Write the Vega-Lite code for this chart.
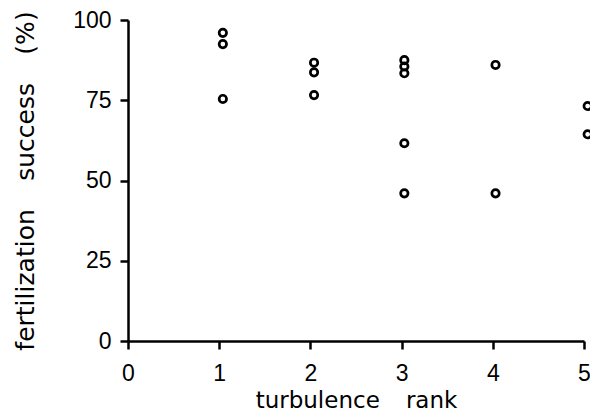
{
  "$schema": "https://vega.github.io/schema/vega-lite/v6.json",
  "width": 456,
  "height": 321,
  "autosize": {"type": "none"},
  "padding": {"left": 128, "top": 20, "right": 6, "bottom": 73},
  "background": "white",
  "data": {"values": [
    {"rank": 1.04, "success": 96},
    {"rank": 1.04, "success": 92.5},
    {"rank": 1.04, "success": 75.4},
    {"rank": 2.04, "success": 86.7},
    {"rank": 2.04, "success": 83.7},
    {"rank": 2.04, "success": 76.6},
    {"rank": 3.03, "success": 87.5},
    {"rank": 3.03, "success": 85.5},
    {"rank": 3.03, "success": 83.4},
    {"rank": 3.03, "success": 61.6},
    {"rank": 3.03, "success": 46},
    {"rank": 4.03, "success": 86},
    {"rank": 4.03, "success": 46},
    {"rank": 5.04, "success": 73.2},
    {"rank": 5.04, "success": 64.4}
  ]},
  "config": {
    "view": {"stroke": null},
    "font": "Liberation Sans",
    "axis": {
      "grid": false,
      "domainColor": "black",
      "domainWidth": 2.5,
      "tickColor": "black",
      "tickWidth": 2.5,
      "tickSize": 8,
      "labelColor": "black",
      "labelFontSize": 23,
      "labelFont": "Liberation Sans",
      "titleFont": "DejaVu Sans",
      "titleFontWeight": "normal",
      "titleColor": "black"
    }
  },
  "mark": {"type": "point", "shape": "circle", "filled": false, "color": "black", "strokeWidth": 2.7, "size": 55, "opacity": 1, "clip": false},
  "encoding": {
    "x": {
      "field": "rank", "type": "quantitative",
      "scale": {"domain": [0, 5], "nice": false, "zero": true},
      "axis": {"values": [0, 1, 2, 3, 4, 5], "labelPadding": 13, "title": "turbulence\u2002\u00a0\u00a0rank", "titleFontSize": 23, "titlePadding": 4, "labelFlush": false, "labelOverlap": false}
    },
    "y": {
      "field": "success", "type": "quantitative",
      "scale": {"domain": [0, 100], "nice": false},
      "axis": {"values": [0, 25, 50, 75, 100], "labelPadding": 9, "title": "fertilization\u2002\u00a0\u00a0success\u2002\u00a0\u00a0(%)", "titleFontSize": 25, "titlePadding": 34, "labelFlush": false, "labelOverlap": false}
    }
  }
}
